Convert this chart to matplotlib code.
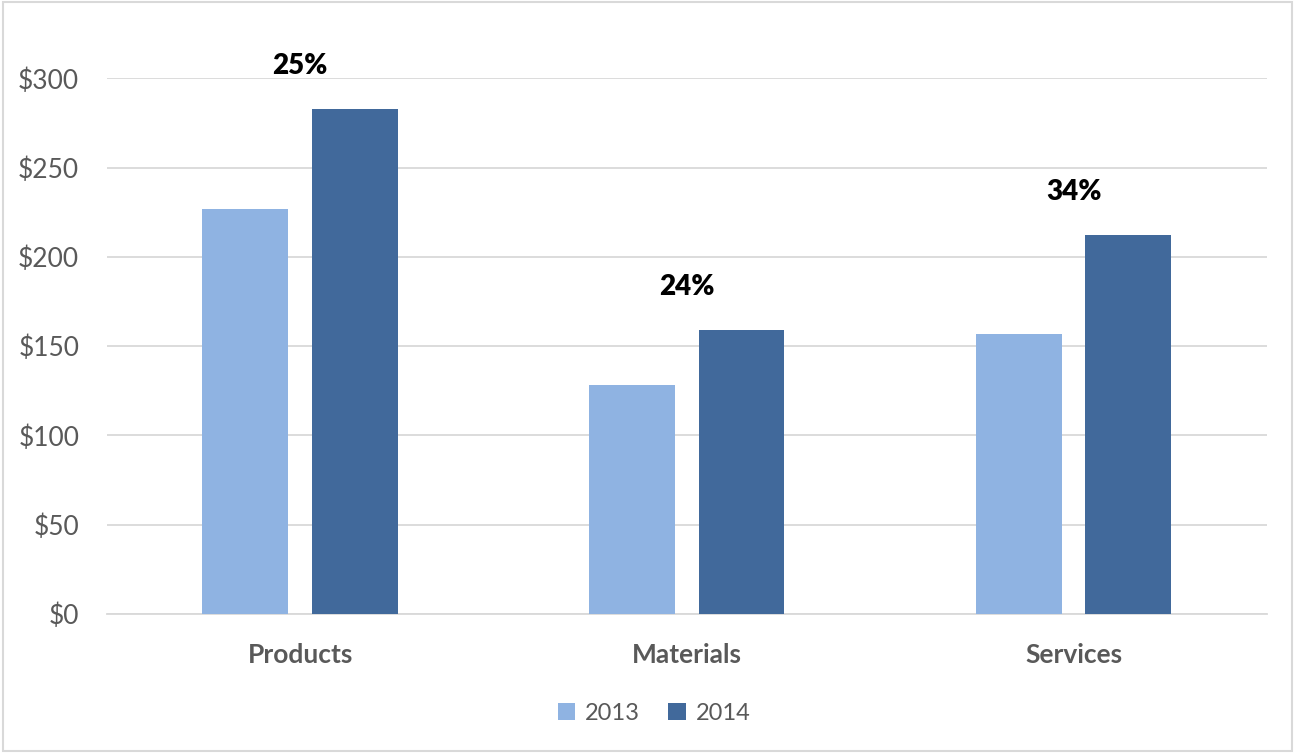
import numpy as np
import matplotlib.pyplot as plt
from matplotlib.patches import Rectangle
from matplotlib.ticker import FuncFormatter

# data
categories = ['Products', 'Materials', 'Services']
sales_2013 = [227, 128, 157]
sales_2014 = [283, 159, 212]
growth_labels = ['25%', '24%', '34%']

plt.rcParams['font.family'] = ['Lato', 'DejaVu Sans']

fig = plt.figure(figsize=(12.95, 7.53), dpi=100)
ax = fig.add_axes([0.0826, 0.1846, 0.8958, 0.7114])

x = np.arange(len(categories))
w = 0.222
ax.bar(x - 0.142, sales_2013, w, color='#8FB3E2', label='2013', zorder=3)
ax.bar(x + 0.141, sales_2014, w, color='#41699B', label='2014', zorder=3)

# growth labels above each group
for xi, top, lab in zip(x, sales_2014, growth_labels):
    ax.annotate(lab, (xi, top), xytext=(0, 31), textcoords='offset points',
                ha='center', va='center', fontsize=20, fontweight='heavy',
                color='black', annotation_clip=False)

ax.set_xlim(-0.5, 2.5)
ax.set_ylim(0, 300)
ax.set_yticks(range(0, 301, 50))
ax.yaxis.set_major_formatter(FuncFormatter(lambda v, p: f'${v:.0f}'))
ax.set_xticks(x)
ax.set_xticklabels(categories, fontweight='bold')

ax.grid(axis='y', color='#D9D9D9', linewidth=1.3, zorder=0)
for s in ['top', 'right', 'left']:
    ax.spines[s].set_visible(False)
ax.spines['bottom'].set_color('#D9D9D9')
ax.spines['bottom'].set_linewidth(1.3)
ax.tick_params(axis='both', length=0, labelsize=19, colors='#595959')
ax.tick_params(axis='y', pad=20)
ax.tick_params(axis='x', pad=21)

fig.legend(loc='center', bbox_to_anchor=(0.505, 0.053), ncol=2, frameon=False,
           fontsize=17, labelcolor='#595959', handlelength=0.75, handleheight=0.75,
           handletextpad=0.4, columnspacing=1.2)

# outer chart border
fig.patches.append(Rectangle((0.002, 0.002), 0.996, 0.995, transform=fig.transFigure,
                             fill=False, edgecolor='#D9D9D9', linewidth=1.5))

fig.savefig('out.png', dpi=100)
